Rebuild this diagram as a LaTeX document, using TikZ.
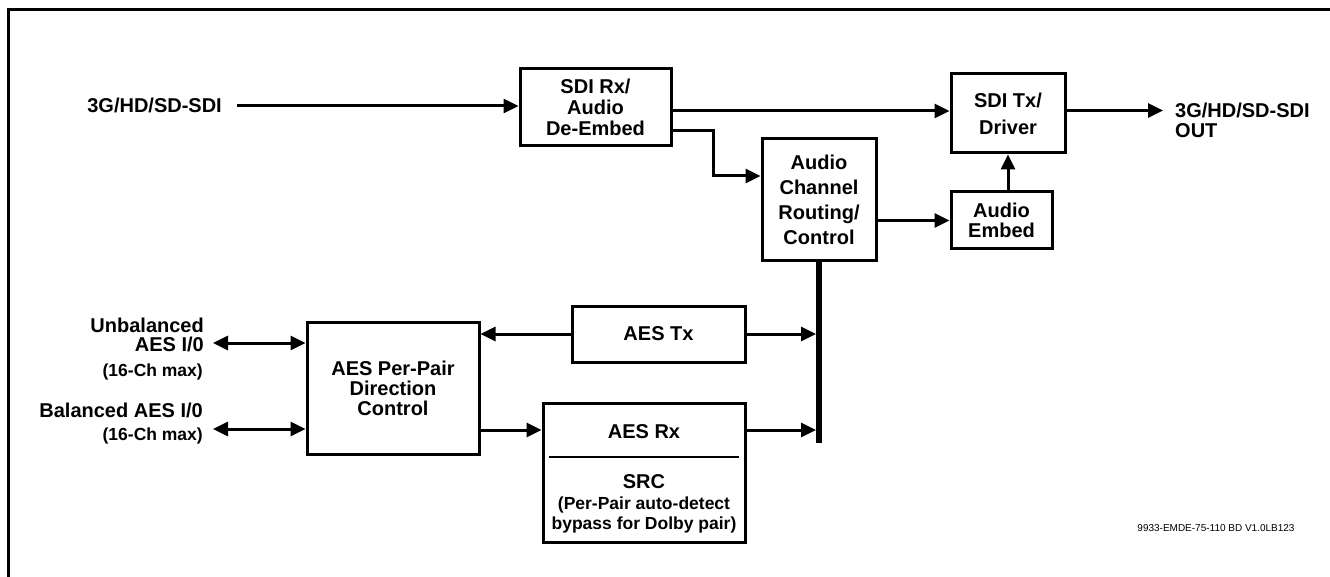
\documentclass[tikz,border=0pt]{standalone}
\usepackage{fontspec}
\setmainfont{Liberation Sans}
\usetikzlibrary{arrows.meta}
\begin{document}
\begin{tikzpicture}[x=1pt,y=-1pt,
  every node/.style={font=\bfseries\fontsize{20}{21}\selectfont, inner sep=0pt, text=black},
  blk/.style={draw, line width=3pt, rectangle, align=center},
  arr/.style={line width=3pt, -{Triangle[length=15pt,width=14pt]}},
  darr/.style={line width=3pt, {Triangle[length=15pt,width=14pt]}-{Triangle[length=15pt,width=14pt]}},
  smalltxt/.style={font=\bfseries\fontsize{17.5}{19}\selectfont},
  lbl/.style={align=right, anchor=east}]
\useasboundingbox (0,0) rectangle (1330,577);
% frame
\draw[line width=3pt] (8.8,577) -- (8.8,9.7) -- (1330,9.7);

% blocks
\node[blk, minimum width=151pt, minimum height=77pt] (sdirx) at (595.5,107.5) {SDI Rx/\\Audio\\De-Embed};
\node[blk, minimum width=114pt, minimum height=79pt, font=\bfseries\fontsize{20}{27}\selectfont] (sditx) at (1008,113.5) {SDI Tx/\\Driver};
\node[blk, minimum width=114pt, minimum height=122pt, font=\bfseries\fontsize{20}{25}\selectfont] (acr) at (819,200) {Audio\\Channel\\Routing/\\Control};
\node[blk, minimum width=101pt, minimum height=57pt, font=\bfseries\fontsize{20}{20}\selectfont] (embed) at (1001.5,220.5) {Audio\\Embed};
\node[blk, minimum width=173pt, minimum height=56pt] (aestx) at (658.5,334) {AES Tx};
\node[blk, minimum width=202pt, minimum height=139pt] (aesrx) at (644,472.5) {};
\node[blk, minimum width=172pt, minimum height=132pt, font=\bfseries\fontsize{20}{20}\selectfont] (pp) at (393,388) {AES Per-Pair\\Direction\\Control};

% AES Rx contents
\node (rxt) at (644,432) {AES Rx};
\draw[line width=2pt] ([shift={(7pt,-55pt)}]aesrx.north west) -- ([shift={(-8pt,-55pt)}]aesrx.north east);
\node (src) at (644,482) {SRC};
\node[align=center, font=\bfseries\fontsize{17.5}{20}\selectfont] (srcd) at (644,515) {(Per-Pair auto-detect\\bypass for Dolby pair)};

% texts
\node[anchor=east] (inp) at (222,105) {3G/HD/SD-SDI};
\node[anchor=west, align=left, font=\bfseries\fontsize{20}{20}\selectfont] (outp) at (1175,120) {3G/HD/SD-SDI\\OUT};
\node[lbl, font=\bfseries\fontsize{20}{18.5}\selectfont] (unb) at (204,335) {Unbalanced\\AES I/0};
\node[lbl, smalltxt] (unbm) at (203,372) {(16-Ch max)};
\node[lbl] (bal) at (203,410) {Balanced AES I/0};
\node[lbl, smalltxt] (balm) at (203,436) {(16-Ch max)};
\node[font=\fontsize{10}{12}\selectfont] (code) at (1216,528) {9933-EMDE-75-110 BD V1.0LB123};

% coordinates
\coordinate (inl) at (237,106);
\coordinate (outl) at (1163,110.5);
\coordinate (busb) at (819,443);
\coordinate (ua) at (213,343);
\coordinate (ba) at (213,429);

% connectors
\draw[arr] (inl) -- (inl -| sdirx.west);
\draw[arr] ([yshift=-3.5pt]sdirx.east) -- ([yshift=-3.5pt]sdirx.east -| sditx.west);
\draw[arr] ([yshift=-23.5pt]sdirx.east) -- ++(41,0) |- ([yshift=24pt]acr.west);
\draw[arr] (embed.west -| acr.east) -- (embed.west);
\draw[arr] (embed.north -| sditx.south) -- (sditx.south);
\draw[arr] (outl -| sditx.east) -- (outl);
\draw[line width=6pt] (acr.south) -- (busb);
\draw[arr] (aestx.west) -- (aestx.west -| pp.east);
\draw[arr, shorten >=3pt] (aestx.east) -- (aestx.east -| busb);
\draw[arr] ([yshift=-42pt]pp.east) -- ([yshift=-42pt]pp.east -| aesrx.west);
\draw[arr, shorten >=3pt] ([yshift=-42pt]pp.east -| aesrx.east) -- ([yshift=-42pt]pp.east -| busb);
\draw[darr] (ua) -- (ua -| pp.west);
\draw[darr] (ba) -- (ba -| pp.west);
\end{tikzpicture}
\end{document}
